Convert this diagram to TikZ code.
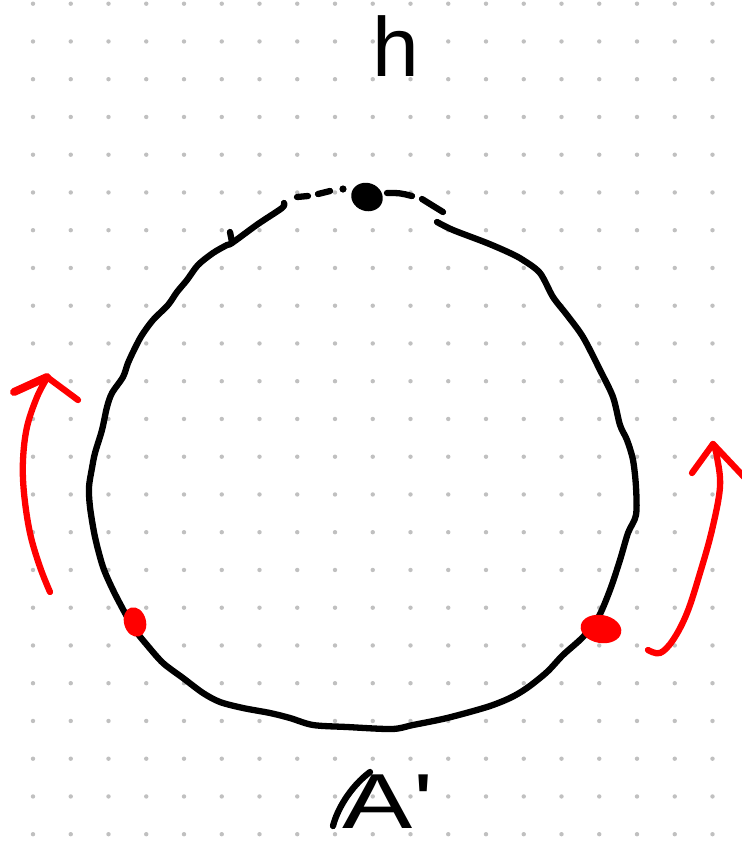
\documentclass[tikz,border=0pt]{standalone}
\usepackage{fontspec}
\newfontfamily\handfont{Liberation Sans}
\definecolor{dotgrey}{RGB}{192,192,192}
\definecolor{penred}{RGB}{255,0,0}
\tikzset{
  pen/.style={line width=6.3pt, line cap=round, line join=round},
  blackpen/.style={pen, draw=black},
  redpen/.style={pen, draw=penred},
  handtext/.style={inner sep=0pt, anchor=base, font=\handfont\fontsize{84}{84}\selectfont}
}
\begin{document}
\begin{tikzpicture}[x=1pt,y=-1pt]
\useasboundingbox (0,0) rectangle (742,847);
\fill[white] (0,0) rectangle (742,847);
% dot grid
\foreach \i in {0,...,18}{
  \foreach \j in {0,...,22}{
    \fill[dotgrey] ({33+37.75*\i},{3.7+37.75*\j}) circle (2.2);
  }
}
% main loop
\draw[blackpen] plot[smooth, tension=0.5] coordinates {
(284,203) (282,208) (258,224) (232,243) (227,245) (213,253) (198,265) (187,280)
(177,292) (168,305) (153,320) (142,335) (135,348) (128,363) (123,377) (112,393)
(107,407) (102,430) (95,453) (92,468) (89,487) (90,507) (95,537) (103,567)
(113,590) (125,613) (135,630) (147,645) (163,663) (183,678) (203,693) (220,702)
(243,708) (270,713) (290,718) (313,725) (347,727) (392,729) (413,725) (447,718)
(487,707) (510,698) (527,688) (547,672) (563,655) (583,637) (598,618) (610,590)
(620,560) (628,533) (636,515) (636,487) (633,460) (627,440) (620,425) (613,397)
(600,370) (583,337) (567,315) (553,297) (540,273) (523,260) (510,253) (487,243)
(453,230) (437,222)};
\draw[blackpen] (230,232) -- (232,242);
% top dashes and point
\draw[blackpen] (297,197) -- (308,196);
\draw[blackpen] (318,194) .. controls (324,192) .. (330,191);
\fill[black] (343,189) circle (3.6);
\fill[black, rotate around={-20:(367,197)}] (367,197) ellipse (16 and 14);
\draw[blackpen] (387,193) .. controls (400,193) .. (412,196);
\draw[blackpen] (422,199) .. controls (430,204) .. (443,212);
% red points
\fill[penred, rotate around={15:(135,622)}] (135,622) ellipse (11 and 15);
\fill[penred, rotate around={-10:(601,629)}] (601,629) ellipse (20.5 and 14);
% left red arrow
\draw[redpen] plot[smooth, tension=0.6] coordinates {
(50,592) (40,567) (30,533) (24,493) (23,460) (27,427) (37,397) (47,378)};
\draw[redpen, line width=8pt] (47,377) -- (14,392);
\draw[redpen] (47,377) -- (78,400);
% right red arrow
\draw[redpen] plot[smooth, tension=0.6] coordinates {
(648,650) (660,653) (673,640) (687,613) (700,573) (712,530) (720,487) (717,457) (714,446)};
\draw[redpen] (713,444) -- (692,473);
\draw[redpen] (713,444) -- (745,478);
% labels
\node[handtext] (h) at (396,76) {h};
\node[handtext, xscale=1.35, font=\handfont\fontsize{78}{78}\selectfont] (A) at (388,828) {A'};
\draw[blackpen] (370,772) .. controls (350,787) and (337,810) .. (333,826);
\end{tikzpicture}
\end{document}
